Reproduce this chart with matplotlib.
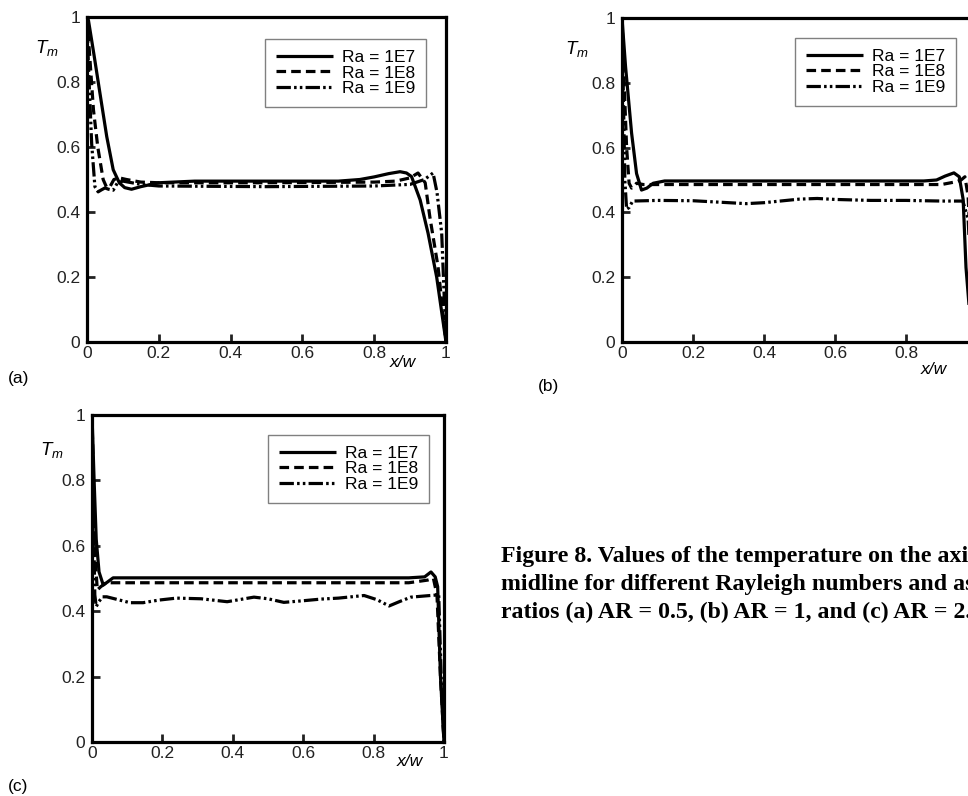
import matplotlib
matplotlib.use('Agg')
import matplotlib.pyplot as plt

plt.rcParams['font.family'] = ['Liberation Sans', 'DejaVu Sans']
plt.rcParams['mathtext.fontset'] = 'custom'
plt.rcParams['mathtext.it'] = 'Liberation Sans:italic'
plt.rcParams['mathtext.rm'] = 'Liberation Sans'

W, H = 968, 796

labels = ['Ra = 1E7', 'Ra = 1E8', 'Ra = 1E9']

# (a) AR = 0.5
a_x_1e7 = [0, 0.004, 0.02, 0.036, 0.055, 0.073, 0.09, 0.105, 0.124, 0.15, 0.2, 0.3, 0.5, 0.7,
           0.76, 0.8, 0.84, 0.872, 0.89, 0.904, 0.928, 0.95, 0.974, 1.0]
a_T_1e7 = [1.0, 0.99, 0.88, 0.766, 0.632, 0.53, 0.49, 0.475, 0.47, 0.478, 0.49, 0.495, 0.495, 0.495,
           0.5, 0.508, 0.518, 0.524, 0.52, 0.509, 0.437, 0.335, 0.2, 0.0]
a_x_1e8 = [0, 0.005, 0.018, 0.03, 0.036, 0.045, 0.055, 0.065, 0.075, 0.09, 0.11, 0.15, 0.2, 0.5,
           0.8, 0.86, 0.9, 0.922, 0.942, 0.955, 0.978, 1.0]
a_T_1e8 = [1.0, 0.92, 0.714, 0.6, 0.56, 0.5, 0.475, 0.48, 0.5, 0.505, 0.5, 0.492, 0.49, 0.49,
           0.492, 0.495, 0.505, 0.52, 0.49, 0.385, 0.23, 0.0]
a_x_1e9 = [0, 0.004, 0.013, 0.022, 0.031, 0.04, 0.05, 0.06, 0.073, 0.085, 0.1, 0.15, 0.2, 0.5,
           0.8, 0.9, 0.94, 0.964, 0.975, 0.988, 1.0]
a_T_1e9 = [1.0, 0.85, 0.61, 0.478, 0.462, 0.468, 0.474, 0.47, 0.467, 0.49, 0.495, 0.485, 0.48, 0.478,
           0.48, 0.485, 0.5, 0.52, 0.46, 0.335, 0.0]

# (b) AR = 1
b_x_1e7 = [0, 0.01, 0.027, 0.041, 0.055, 0.07, 0.088, 0.12, 0.2, 0.5, 0.85, 0.886, 0.91, 0.935,
           0.95, 0.961, 0.969, 0.98, 0.99, 1.0]
b_T_1e7 = [1.0, 0.85, 0.645, 0.52, 0.469, 0.475, 0.49, 0.497, 0.497, 0.497, 0.497, 0.5, 0.512, 0.522,
           0.51, 0.44, 0.23, 0.08, 0.02, 0.0]
b_x_1e8 = [0, 0.006, 0.013, 0.02, 0.027, 0.035, 0.041, 0.06, 0.1, 0.5, 0.9, 0.943, 0.955, 0.966,
           0.975, 0.985, 1.0]
b_T_1e8 = [1.0, 0.8, 0.6, 0.49, 0.475, 0.482, 0.49, 0.486, 0.486, 0.486, 0.486, 0.495, 0.5, 0.51,
           0.45, 0.2, 0.0]
b_x_1e9 = [0, 0.004, 0.008, 0.013, 0.02, 0.03, 0.1, 0.2, 0.3, 0.35, 0.4, 0.5, 0.55, 0.6, 0.7,
           0.8, 0.9, 0.96, 0.975, 0.985, 1.0]
b_T_1e9 = [1.0, 0.75, 0.5, 0.41, 0.415, 0.435, 0.437, 0.436, 0.43, 0.427, 0.43, 0.441, 0.443, 0.44,
           0.437, 0.437, 0.435, 0.435, 0.38, 0.15, 0.0]

# (c) AR = 2
c_x_1e7 = [0, 0.006, 0.012, 0.02, 0.032, 0.045, 0.06, 0.1, 0.5, 0.9, 0.945, 0.963, 0.975, 0.982,
           0.99, 1.0]
c_T_1e7 = [1.0, 0.8, 0.62, 0.52, 0.48, 0.49, 0.502, 0.502, 0.502, 0.502, 0.505, 0.52, 0.505, 0.475,
           0.2, 0.0]
c_x_1e8 = [0, 0.005, 0.01, 0.015, 0.025, 0.04, 0.1, 0.5, 0.9, 0.953, 0.97, 0.98, 0.99, 1.0]
c_T_1e8 = [1.0, 0.75, 0.55, 0.465, 0.475, 0.487, 0.487, 0.487, 0.487, 0.495, 0.5, 0.45, 0.2, 0.0]
c_x_1e9 = [0, 0.004, 0.008, 0.012, 0.02, 0.03, 0.042, 0.075, 0.108, 0.145, 0.19, 0.24, 0.31, 0.384,
           0.46, 0.5, 0.545, 0.6, 0.65, 0.7, 0.773, 0.81, 0.844, 0.875, 0.906, 0.95, 0.985, 0.992, 1.0]
c_T_1e9 = [1.0, 0.7, 0.45, 0.414, 0.43, 0.444, 0.444, 0.435, 0.426, 0.426, 0.434, 0.44, 0.438, 0.429,
           0.443, 0.438, 0.427, 0.432, 0.437, 0.44, 0.448, 0.435, 0.416, 0.43, 0.443, 0.447, 0.45, 0.2, 0.0]

x_ticks = [0, 0.2, 0.4, 0.6, 0.8, 1]
y_ticks = [0, 0.2, 0.4, 0.6, 0.8, 1]

caption = ['Figure 8. Values of the temperature on the axial',
           'midline for different Rayleigh numbers and aspect',
           'ratios (a) AR = 0.5, (b) AR = 1, and (c) AR = 2.']

styles = ['-', (0, (3.0, 1.6)), (0, (4.5, 1.0, 0.8, 1.0, 0.8, 1.0))]


def px_rect(left, top, right, bottom):
    # pixel box -> figure fraction
    return [left / W, 1 - bottom / H, (right - left) / W, (bottom - top) / H]


def draw_panel(ax, series, leg_anchor, tm_pos, xw_pos):
    for (x, T), ls, lab in zip(series, styles, labels):
        ax.plot(x, T, color='black', lw=2.3, linestyle=ls, label=lab,
                solid_capstyle='butt', dash_capstyle='butt')
    ax.set_xlim(0, 1)
    ax.set_ylim(0, 1)
    ax.set_xticks(x_ticks)
    ax.set_yticks(y_ticks)
    ax.set_xticklabels(['%g' % t for t in x_ticks])
    ax.set_yticklabels(['%g' % t for t in y_ticks])
    ax.tick_params(direction='in', length=6, width=2, labelsize=12.5, colors='#222222')
    ax.tick_params(axis='x', pad=3)
    ax.tick_params(axis='y', pad=5)
    for sp in ax.spines.values():
        sp.set_linewidth(2.3)
    leg = ax.legend(loc='upper right', bbox_to_anchor=leg_anchor, fontsize=12.5,
                    handlelength=3.3, handletextpad=0.5, labelspacing=0.02,
                    borderpad=0.62, fancybox=False, framealpha=1, borderaxespad=0)
    leg.get_frame().set_edgecolor('#808080')
    leg.get_frame().set_linewidth(1.0)
    ax.text(tm_pos[0], tm_pos[1], r'$T_{m}$', transform=ax.transAxes, fontsize=13.5,
            ha='center', va='center')
    ax.text(xw_pos[0], xw_pos[1], 'x/w', transform=ax.transAxes, fontsize=12.5,
            style='italic', ha='center', va='center')


fig = plt.figure(figsize=(W / 100, H / 100), dpi=100)

ax_a = fig.add_axes(px_rect(87, 17, 446, 342))
draw_panel(ax_a, [(a_x_1e7, a_T_1e7), (a_x_1e8, a_T_1e8), (a_x_1e9, a_T_1e9)],
           (0.944, 0.932), (-0.111, 0.905), (0.88, -0.062))

ax_b = fig.add_axes(px_rect(622, 18, 977, 342))
draw_panel(ax_b, [(b_x_1e7, b_T_1e7), (b_x_1e8, b_T_1e8), (b_x_1e9, b_T_1e9)],
           ((956 - 622) / 355, (342 - 38) / 324), (-0.127, 0.905), (0.879, -0.086))

ax_c = fig.add_axes(px_rect(92, 415, 444, 742))
draw_panel(ax_c, [(c_x_1e7, c_T_1e7), (c_x_1e8, c_T_1e8), (c_x_1e9, c_T_1e9)],
           ((429 - 92) / 352, (742 - 435) / 327), (-0.114, 0.893), (0.903, -0.061))

fig.text(8 / W, 1 - 378 / H, '(a)', fontsize=12.5, va='center', ha='left')
fig.text(538 / W, 1 - 387 / H, '(b)', fontsize=12.5, va='center', ha='left')
fig.text(8 / W, 1 - 787 / H, '(c)', fontsize=12.5, va='center', ha='left')

for i, line in enumerate(caption):
    fig.text(501 / W, 1 - (562 + 28 * i) / H, line, family='Liberation Serif',
             fontweight='bold', fontsize=17.2, ha='left', va='baseline')

fig.savefig('out.png', dpi=100)
